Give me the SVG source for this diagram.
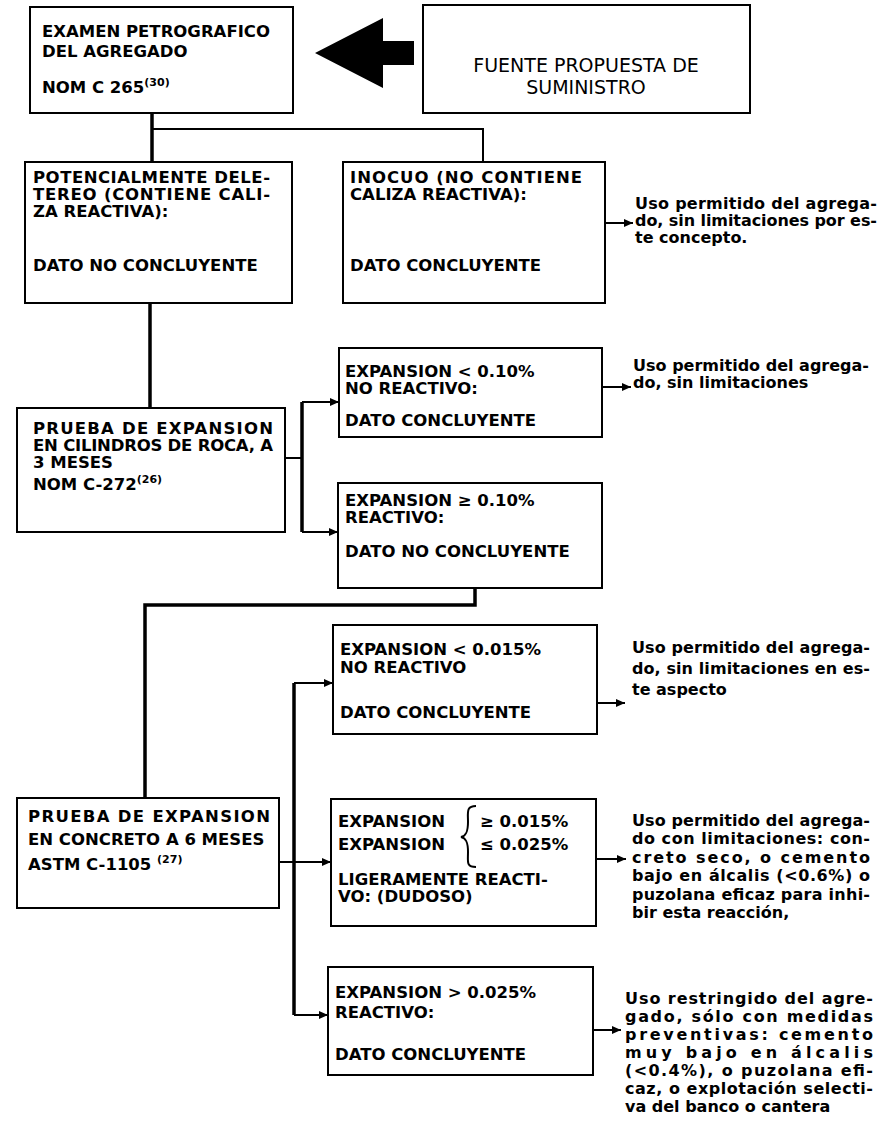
<svg xmlns="http://www.w3.org/2000/svg" width="885" height="1126" viewBox="0 0 885 1126">
<style>
.box{fill:#fff;stroke:#000;stroke-width:2}
.t{font-family:"DejaVu Sans","Liberation Sans",sans-serif;font-weight:bold;font-size:16.5px;fill:#000}
.n{font-family:"DejaVu Sans","Liberation Sans",sans-serif;font-size:19px;fill:#000}
.r{font-family:"DejaVu Sans","Liberation Sans",sans-serif;font-weight:bold;font-size:16px;fill:#000}
.sup{font-size:11px}
.c{fill:none;stroke:#000;stroke-width:2}
.ck{fill:none;stroke:#000;stroke-width:3.5}
.a{fill:none;stroke:#000;stroke-width:2;marker-end:url(#ah)}
</style>
<defs>
<marker id="ah" markerUnits="userSpaceOnUse" markerWidth="9" markerHeight="8" refX="9" refY="4" orient="auto"><path d="M0,0 L9,4 L0,8 z" fill="#000"/></marker>
</defs>
<rect width="885" height="1126" fill="#fff"/>
<g id="connectors">
<path class="ck" d="M152,113 V162"/>
<path class="c" d="M152,129 H483 V162"/>
<path class="ck" d="M150,303 V408"/>
<path class="c" d="M285,458 H302"/>
<path class="ck" d="M302,402 V532"/>
<path class="a" d="M302,402 H339"/>
<path class="a" d="M302,532 H338"/>
<path class="a" d="M605,223 H633"/>
<path class="a" d="M602,387 H631"/>
<path class="ck" d="M475,588 V605 H145 V798"/>
<path class="c" d="M279,862 H294"/>
<path class="ck" d="M294,683 V1015"/>
<path class="a" d="M294,683 H333"/>
<path class="a" d="M294,862 H331"/>
<path class="a" d="M294,1015 H328"/>
<path class="a" d="M597,703 H625"/>
<path class="a" d="M596,859 H626"/>
<path class="a" d="M593,1030 H621"/>
<polygon id="bigarrow" points="315,53 383,18 383,41 414,41 414,65 383,65 383,88" fill="#000"/>
</g>
<g id="n1">
<rect class="box" x="30" y="7" width="263" height="106"/>
<text class="t"><tspan x="42" y="37">EXAMEN PETROGRAFICO</tspan><tspan x="42" y="57">DEL AGREGADO</tspan><tspan x="42" y="93">NOM C 265</tspan><tspan class="sup" dy="-7">(30)</tspan></text>
</g>
<g id="n2">
<rect class="box" x="423" y="5" width="327" height="108"/>
<text class="n" text-anchor="middle"><tspan x="586" y="72">FUENTE PROPUESTA DE</tspan><tspan x="586" y="94">SUMINISTRO</tspan></text>
</g>
<g id="n3">
<rect class="box" x="25" y="162" width="267" height="141"/>
<text class="t"><tspan x="33" y="183" textLength="237" lengthAdjust="spacing">POTENCIALMENTE DELE-</tspan><tspan x="33" y="200" textLength="237" lengthAdjust="spacing">TEREO (CONTIENE CALI-</tspan><tspan x="33" y="217">ZA REACTIVA):</tspan><tspan x="33" y="271">DATO NO CONCLUYENTE</tspan></text>
</g>
<g id="n4">
<rect class="box" x="343" y="162" width="262" height="141"/>
<text class="t"><tspan x="350" y="183" textLength="232" lengthAdjust="spacing">INOCUO (NO CONTIENE</tspan><tspan x="350" y="200">CALIZA REACTIVA):</tspan><tspan x="350" y="271">DATO CONCLUYENTE</tspan></text>
</g>
<g id="t1">
<text class="r"><tspan x="635" y="209" textLength="242" lengthAdjust="spacing">Uso permitido del agrega-</tspan><tspan x="635" y="226" textLength="242" lengthAdjust="spacing">do, sin limitaciones por es-</tspan><tspan x="635" y="243">te concepto.</tspan></text>
</g>
<g id="n5">
<rect class="box" x="17" y="408" width="268" height="124"/>
<text class="t"><tspan x="33" y="434" textLength="240" lengthAdjust="spacing">PRUEBA DE EXPANSION</tspan><tspan x="33" y="451" textLength="240" lengthAdjust="spacing">EN CILINDROS DE ROCA, A</tspan><tspan x="33" y="468">3 MESES</tspan><tspan x="33" y="490">NOM C-272</tspan><tspan class="sup" dy="-7">(26)</tspan></text>
</g>
<g id="n6">
<rect class="box" x="339" y="348" width="263" height="89"/>
<text class="t"><tspan x="345" y="377">EXPANSION &lt; 0.10%</tspan><tspan x="345" y="394">NO REACTIVO:</tspan><tspan x="345" y="426">DATO CONCLUYENTE</tspan></text>
</g>
<g id="t2">
<text class="r"><tspan x="633" y="371" textLength="236" lengthAdjust="spacing">Uso permitido del agrega-</tspan><tspan x="633" y="388">do, sin limitaciones</tspan></text>
</g>
<g id="n7">
<rect class="box" x="338" y="483" width="264" height="105"/>
<text class="t"><tspan x="345" y="506">EXPANSION ≥ 0.10%</tspan><tspan x="345" y="523">REACTIVO:</tspan><tspan x="345" y="557">DATO NO CONCLUYENTE</tspan></text>
</g>
<g id="n8">
<rect class="box" x="17" y="798" width="262" height="110"/>
<text class="t"><tspan x="28" y="822" textLength="242" lengthAdjust="spacing">PRUEBA DE EXPANSION</tspan><tspan x="28" y="845">EN CONCRETO A 6 MESES</tspan><tspan x="28" y="870">ASTM C-1105 </tspan><tspan class="sup" dy="-7">(27)</tspan></text>
</g>
<g id="n9">
<rect class="box" x="333" y="625" width="264" height="109"/>
<text class="t"><tspan x="340" y="655">EXPANSION &lt; 0.015%</tspan><tspan x="340" y="673">NO REACTIVO</tspan><tspan x="340" y="718">DATO CONCLUYENTE</tspan></text>
</g>
<g id="t3">
<text class="r"><tspan x="632" y="653" textLength="238" lengthAdjust="spacing">Uso permitido del agrega-</tspan><tspan x="632" y="674" textLength="238" lengthAdjust="spacing">do, sin limitaciones en es-</tspan><tspan x="632" y="695">te aspecto</tspan></text>
</g>
<g id="n10">
<rect class="box" x="331" y="799" width="265" height="127"/>
<text class="t"><tspan x="338" y="827">EXPANSION</tspan><tspan x="338" y="850">EXPANSION</tspan></text>
<path d="M476,806 C466,806 468,812 468,822 C468,832 466,836 461,837 C466,838 468,842 468,852 C468,862 466,867 476,867" fill="none" stroke="#000" stroke-width="2"/>
<text class="t"><tspan x="480" y="827">≥ 0.015%</tspan><tspan x="480" y="850">≤ 0.025%</tspan></text>
<text class="t"><tspan x="338" y="885">LIGERAMENTE REACTI-</tspan><tspan x="338" y="902">VO: (DUDOSO)</tspan></text>
</g>
<g id="t4">
<text class="r"><tspan x="632" y="826" textLength="238" lengthAdjust="spacing">Uso permitido del agrega-</tspan><tspan x="632" y="844" textLength="238" lengthAdjust="spacing">do con limitaciones: con-</tspan><tspan x="632" y="863" textLength="238" lengthAdjust="spacing">creto seco, o cemento</tspan><tspan x="632" y="881" textLength="238" lengthAdjust="spacing">bajo en álcalis (&lt;0.6%) o</tspan><tspan x="632" y="900" textLength="238" lengthAdjust="spacing">puzolana eficaz para inhi-</tspan><tspan x="632" y="918">bir esta reacción,</tspan></text>
</g>
<g id="n11">
<rect class="box" x="328" y="967" width="265" height="108"/>
<text class="t"><tspan x="335" y="998">EXPANSION &gt; 0.025%</tspan><tspan x="335" y="1018">REACTIVO:</tspan><tspan x="335" y="1060">DATO CONCLUYENTE</tspan></text>
</g>
<g id="t5">
<text class="r"><tspan x="625" y="1004" textLength="248" lengthAdjust="spacing">Uso restringido del agre-</tspan><tspan x="625" y="1022" textLength="248" lengthAdjust="spacing">gado, sólo con medidas</tspan><tspan x="625" y="1040" textLength="248" lengthAdjust="spacing">preventivas: cemento</tspan><tspan x="625" y="1058" textLength="248" lengthAdjust="spacing">muy bajo en álcalis</tspan><tspan x="625" y="1076" textLength="248" lengthAdjust="spacing">(&lt;0.4%), o puzolana efi-</tspan><tspan x="625" y="1094" textLength="248" lengthAdjust="spacing">caz, o explotación selecti-</tspan><tspan x="625" y="1112">va del banco o cantera</tspan></text>
</g>
</svg>
